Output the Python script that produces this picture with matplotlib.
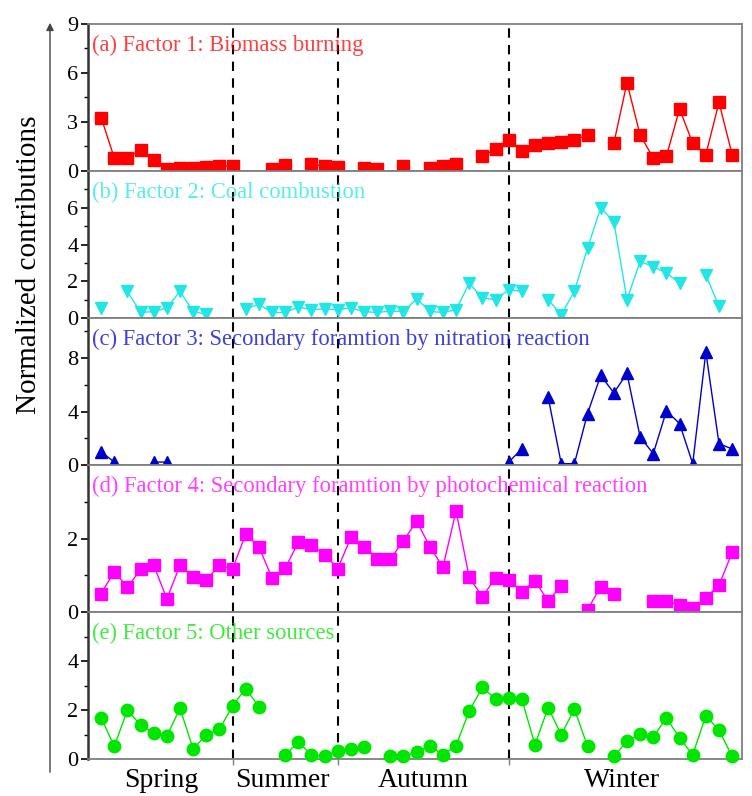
#!/usr/bin/env python3
"""Stacked PMF factor time series (normalized contributions by season)."""
import numpy as np
import matplotlib
matplotlib.use("Agg")
import matplotlib.pyplot as plt
from matplotlib.patches import FancyArrowPatch

nan = np.nan

plt.rcParams.update({
    "font.family": ["Liberation Serif", "DejaVu Serif"],
    "font.size": 14,
})

# sample index along the campaign
sample = np.arange(49)

# dashed season boundaries (sample index)
season_breaks = [10, 18, 31]
season_names = ["Spring", "Summer", "Autumn", "Winter"]
season_pos = [4.6, 13.8, 24.5, 39.6]

f1_biomass = [3.27, 0.8, 0.8, 1.3, 0.7, 0.15, 0.2, 0.2, 0.25, 0.3,
              0.3, nan, nan, 0.15, 0.35, nan, 0.4, 0.3, 0.25, nan,
              0.2, 0.15, nan, 0.3, nan, 0.2, 0.3, 0.4, nan, 0.9,
              1.35, 1.9, 1.2, 1.6, 1.7, 1.8, 1.9, 2.2, nan, 1.7,
              5.4, 2.2, 0.8, 0.9, 3.8, 1.7, 1.0, 4.2, 1.0]

f2_coal = [0.54, nan, 1.45, 0.3, 0.35, 0.55, 1.45, 0.35, 0.2, nan,
           nan, 0.5, 0.75, 0.3, 0.3, 0.6, 0.45, 0.5, 0.45, 0.55,
           0.35, 0.3, 0.38, 0.35, 1.05, 0.36, 0.3, 0.45, 1.9, 1.09,
           1.0, 1.54, 1.45, nan, 1.0, 0.18, 1.45, 3.8, 6.0, 5.25,
           1.0, 3.08, 2.8, 2.45, 1.9, nan, 2.35, 0.63, nan]

f3_nitration = [0.99, 0.22, nan, nan, 0.22, 0.22, nan, nan, nan, nan,
                nan, nan, nan, nan, nan, nan, nan, nan, nan, nan,
                nan, nan, nan, nan, nan, nan, nan, nan, nan, nan,
                nan, 0.22, 1.2, nan, 5.1, 0.1, 0.1, 3.85, 6.7, 5.4,
                6.85, 2.1, 0.85, 4.05, 3.1, 0.1, 8.45, 1.6, 1.2]

f4_photochem = [0.5, 1.1, 0.67, 1.16, 1.27, 0.36, 1.27, 0.94, 0.88, 1.27,
                1.18, 2.12, 1.78, 0.92, 1.19, 1.9, 1.82, 1.56, 1.18, 2.03,
                1.78, 1.45, 1.44, 1.94, 2.47, 1.78, 1.22, 2.75, 0.94, 0.42,
                0.92, 0.88, 0.55, 0.85, 0.3, 0.71, nan, 0.06, 0.69, 0.48,
                nan, nan, 0.3, 0.3, 0.18, 0.11, 0.39, 0.73, 1.62]

f5_other = [1.68, 0.52, 2.0, 1.38, 1.08, 0.94, 2.07, 0.41, 0.99, 1.21,
            2.18, 2.87, 2.14, nan, 0.17, 0.69, 0.17, 0.11, 0.34, 0.41,
            0.48, nan, 0.11, 0.11, 0.28, 0.55, 0.17, 0.55, 1.96, 2.92,
            2.45, 2.51, 2.45, 0.58, 2.1, 0.99, 2.04, 0.52, nan, 0.11,
            0.72, 1.03, 0.9, 1.68, 0.86, 0.17, 1.77, 1.17, 0.11]

titles = [
    "(a) Factor 1: Biomass burning",
    "(b) Factor 2: Coal combustion",
    "(c) Factor 3: Secondary foramtion by nitration reaction",
    "(d) Factor 4: Secondary foramtion by photochemical reaction",
    "(e) Factor 5: Other sources",
]

panels = [
    # values, color, marker, ymax, major ticks, minor ticks
    (f1_biomass, "#ff0000", "s", 9, [0, 3, 6, 9], [1.5, 4.5, 7.5]),
    (f2_coal, "#22e6e6", "v", 8, [0, 2, 4, 6], [1, 3, 5, 7]),
    (f3_nitration, "#0000cc", "^", 11, [0, 4, 8], [2, 6, 10]),
    (f4_photochem, "#ff00ff", "s", 4, [0, 2], [1, 3]),
    (f5_other, "#00e600", "o", 6, [0, 2, 4], [1, 3, 5]),
]


def main():
    fig = plt.figure(figsize=(7.52, 7.96), dpi=100)
    left, right = 88 / 752, 742 / 752
    top, ph = 1 - 24 / 796, 147 / 796

    axes = []
    for k, (vals, color, marker, ymax, ticks, minors) in enumerate(panels):
        ax = fig.add_axes([left, top - (k + 1) * ph, right - left, ph])
        axes.append(ax)
        ax.plot(sample, vals, color=color, lw=1.0, marker=marker,
                ms=8.5 if marker != "o" else 9, mec=color, mfc=color,
                clip_on=False, zorder=3)
        for b in season_breaks:
            ax.axvline(b, color="black", lw=1.5, ls=(0, (4.5, 3.5)), zorder=2)
        ax.set_xlim(-1.0, 48.75)
        ax.set_ylim(0, ymax)
        ax.set_yticks(ticks)
        ax.set_yticks(minors, minor=True)
        ax.tick_params(axis="y", which="major", direction="out", length=5,
                       width=1.2, labelsize=16, pad=2)
        ax.tick_params(axis="y", which="minor", direction="out", length=3,
                       width=1.0)
        ax.set_xticks([])
        for side in ("top", "right", "bottom"):
            ax.spines[side].set_color("#7f7f7f")
            ax.spines[side].set_linewidth(1.3)
        ax.spines["left"].set_color("#333333")
        ax.spines["left"].set_linewidth(1.8)
        ax.text(0.006, 0.855, titles[k], transform=ax.transAxes, color=color,
                fontsize=16.3, ha="left", va="center", alpha=0.75, zorder=4)

    bottom = axes[-1]
    bottom.set_xticks(season_breaks)
    bottom.set_xticklabels([])
    bottom.tick_params(axis="x", direction="out", length=4, width=1.0,
                       color="#7f7f7f")
    for name, pos in zip(season_names, season_pos):
        bottom.text(pos, -0.06, name, transform=bottom.get_xaxis_transform(),
                    ha="center", va="top", fontsize=20)

    fig.text(0.038, 1 - 265 / 796, "Normalized contributions", rotation=90,
             ha="center", va="center", fontsize=21)
    fig.add_artist(FancyArrowPatch(
        (50 / 752, 1 - 775 / 796), (50 / 752, 1 - 20 / 796),
        transform=fig.transFigure, arrowstyle="-|>", mutation_scale=11,
        lw=1.0, color="#444444",
    ))

    fig.savefig("out.png", dpi=100, facecolor="white")


if __name__ == "__main__":
    main()
